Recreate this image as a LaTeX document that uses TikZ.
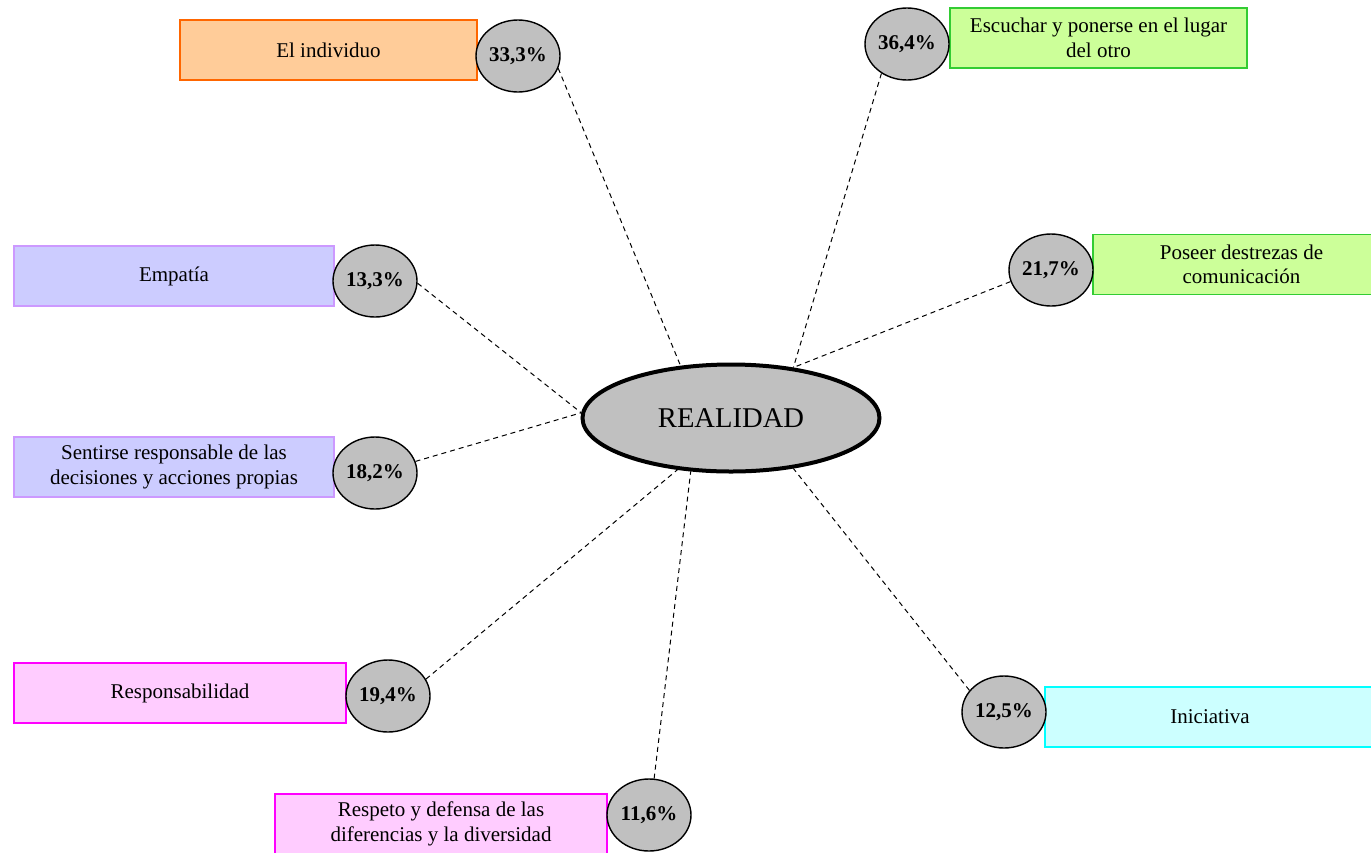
\documentclass[tikz,border=0pt]{standalone}
\usepackage{fontspec}
\setmainfont{Liberation Serif}
\usetikzlibrary{shapes.geometric}
\definecolor{naranjaclaro}{HTML}{FFCC99}
\definecolor{naranja}{HTML}{FF6600}
\definecolor{verdeclaro}{HTML}{CCFF99}
\definecolor{verde}{HTML}{33CC33}
\definecolor{lilaclaro}{HTML}{CCCCFF}
\definecolor{lila}{HTML}{CC99FF}
\definecolor{rosaclaro}{HTML}{FFCCFF}
\definecolor{rosa}{HTML}{FF00FF}
\definecolor{celesteclaro}{HTML}{CCFFFF}
\definecolor{celeste}{HTML}{00FFFF}
\definecolor{gris}{HTML}{C0C0C0}

\begin{document}
\begin{tikzpicture}[x=0.5pt,y=-0.5pt,
  every node/.style={font=\fontsize{10.5}{12.2}\selectfont},
  caja/.style={rectangle,line width=0.75pt,minimum height=30pt,align=center,inner sep=0pt},
  pct/.style={ellipse,draw,fill=gris,line width=0.7pt,minimum width=42pt,minimum height=36pt,inner sep=0pt,font=\fontsize{10.5}{12.2}\selectfont\bfseries},
  linea/.style={line width=0.5pt,dash pattern=on 2.5pt off 2pt}]
\useasboundingbox (0,0) rectangle (1371,852);
\node[caja,draw=naranja,fill=naranjaclaro,minimum width=148.5pt] (indiv) at (328.5,50) {El individuo};
\node[caja,draw=verde,fill=verdeclaro,minimum width=148.5pt] (escuchar) at (1098.5,38) {Escuchar y ponerse en el lugar\\del otro};
\node[caja,draw=lila,fill=lilaclaro,minimum width=160pt] (empatia) at (174,276) {Empat\'ia};
\node[caja,draw=lila,fill=lilaclaro,minimum width=160pt] (sentirse) at (174,467) {Sentirse responsable de las\\decisiones y acciones propias};
\node[caja,draw=verde,fill=verdeclaro,minimum width=148.5pt] (poseer) at (1241.5,264.5) {Poseer destrezas de\\comunicaci\'on};
\node[caja,draw=rosa,fill=rosaclaro,minimum width=166pt] (resp) at (180,693) {Responsabilidad};
\node[caja,draw=rosa,fill=rosaclaro,minimum width=166pt] (respeto) at (441,824) {Respeto y defensa de las\\diferencias y la diversidad};
\node[caja,draw=celeste,fill=celesteclaro,minimum width=165pt] (inic) at (1210,717) {Iniciativa};

\node[pct] (p333) at (518,56) {33,3\%};
\node[pct] (p364) at (907,44) {36,4\%};
\node[pct] (p133) at (375,281) {13,3\%};
\node[pct] (p182) at (375,473) {18,2\%};
\node[pct] (p217) at (1051,270) {21,7\%};
\node[pct] (p194) at (388,696) {19,4\%};
\node[pct] (p116) at (649,815) {11,6\%};
\node[pct] (p125) at (1004,712) {12,5\%};

\node[ellipse,draw,fill=gris,line width=2pt,minimum width=148.5pt,minimum height=53.5pt,inner sep=0pt,
  font=\fontsize{14.3}{16}\selectfont] (real) at (731,418) {REALIDAD};

\draw[linea] (p333.-17) -- (real.134);
\draw[linea] (p364.229) -- (real.39);
\draw[linea] (p217.196) -- (real.39);
\draw[linea] (p133.-3) -- (real.178);
\draw[linea] (p182.16) -- (real.178);
\draw[linea] (p194.24) -- (real.224);
\draw[linea] (p116.82) -- (real.233);
\draw[linea] (p125.148) -- (real.321);
\end{tikzpicture}
\end{document}
